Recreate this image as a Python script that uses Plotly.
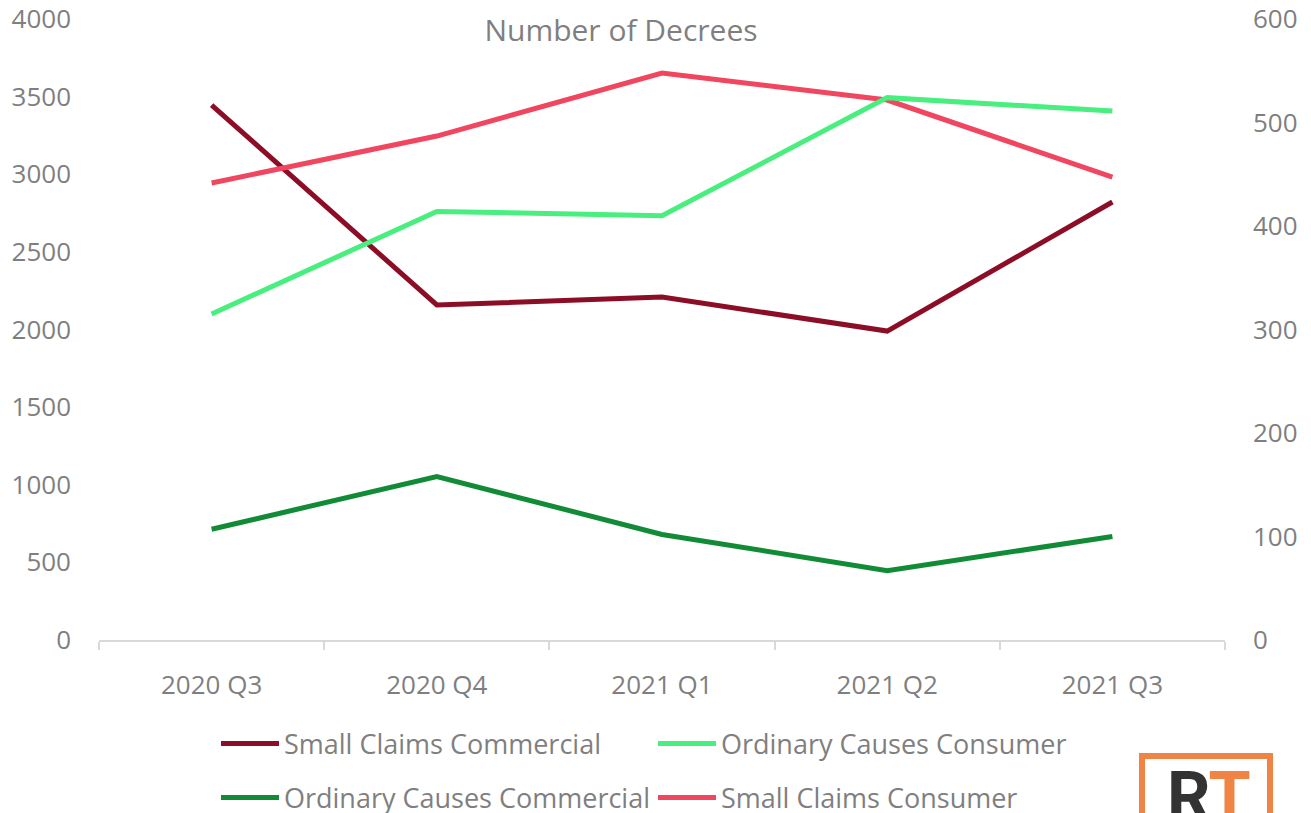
import plotly.graph_objects as go

quarters = ["2020 Q3", "2020 Q4", "2021 Q1", "2021 Q2", "2021 Q3"]
small_claims_commercial = [3446, 2158, 2209, 1990, 2821]
small_claims_consumer = [2944, 3246, 3652, 3478, 2982]
ordinary_causes_consumer = [315, 414, 410, 524, 511]
ordinary_causes_commercial = [107, 158, 102, 67, 100]

FONT = "Open Sans"
GREY = "#7f7f7f"
W, H = 1311, 813
L, R, T, B = 99, 86, 19, 173
PW, PH = W - L - R, H - T - B

fig = go.Figure()
fig.add_trace(go.Scatter(x=quarters, y=small_claims_commercial, name="Small Claims Commercial",
                         mode="lines", line=dict(color="#8c0d26", width=5), legend="legend"))
fig.add_trace(go.Scatter(x=quarters, y=ordinary_causes_consumer, name="Ordinary Causes Consumer",
                         mode="lines", line=dict(color="#48ee7e", width=5), yaxis="y2", legend="legend"))
fig.add_trace(go.Scatter(x=quarters, y=ordinary_causes_commercial, name="Ordinary Causes Commercial",
                         mode="lines", line=dict(color="#128b37", width=5), yaxis="y2", legend="legend2"))
fig.add_trace(go.Scatter(x=quarters, y=small_claims_consumer, name="Small Claims Consumer",
                         mode="lines", line=dict(color="#f0465f", width=5), legend="legend2"))

legend_common = dict(orientation="h", xref="container", yref="container", xanchor="left",
                     yanchor="middle", font=dict(family=FONT, size=27, color=GREY),
                     itemwidth=58, entrywidth=364, bgcolor="rgba(0,0,0,0)", traceorder="normal")

fig.update_layout(
    width=W, height=H,
    margin=dict(l=L, r=R, t=T, b=B, autoexpand=False),
    paper_bgcolor="white", plot_bgcolor="white",
    font=dict(family=FONT, color=GREY, size=26),
    title=dict(text="Number of Decrees", xref="paper", x=(621 - L) / PW, xanchor="center",
               yref="container", y=1 - 30 / H, yanchor="middle",
               font=dict(family=FONT, size=30, color=GREY)),
    xaxis=dict(type="category", range=[-0.5, 4.5], showline=True, linecolor="#d9d9d9", linewidth=1.5,
               ticks="outside", tickson="boundaries", ticklen=8, tickcolor="#d9d9d9", tickwidth=1.5,
               showgrid=False, automargin=False, tickfont=dict(size=26, color=GREY), ticklabelstandoff=21),
    yaxis=dict(range=[0, 4000], dtick=500, showgrid=False, zeroline=False, showline=False, automargin=False,
               tickfont=dict(size=26, color=GREY), ticklabelstandoff=27),
    yaxis2=dict(range=[0, 600], dtick=100, showgrid=False, zeroline=False, showline=False, automargin=False,
                overlaying="y", side="right", tickfont=dict(size=26, color=GREY), ticklabelstandoff=27),
    legend=dict(legend_common, x=216 / W, y=1 - 744 / H),
    legend2=dict(legend_common, x=216 / W, y=1 - 798 / H),
    showlegend=True,
)

# Logo (bottom right)
fig.add_shape(type="rect", xref="paper", yref="paper",
              x0=(1142 - L) / PW, x1=(1270 - L) / PW,
              y0=(640 - 756) / PH, y1=(640 - 840) / PH,
              line=dict(color="#f08444", width=6), fillcolor="rgba(0,0,0,0)", layer="above")
fig.add_annotation(xref="paper", yref="paper", x=(1209 - L) / PW, y=(640 - 755) / PH,
                   xanchor="center", yanchor="top", showarrow=False,
                   text="<b><span style='color:#333333'>R</span><span style='color:#f08444'>T</span></b>",
                   font=dict(family="Roboto", size=68))

fig.write_html("out.html", config={"displayModeBar": False},
               post_script="document.body.style.margin='0px';")
